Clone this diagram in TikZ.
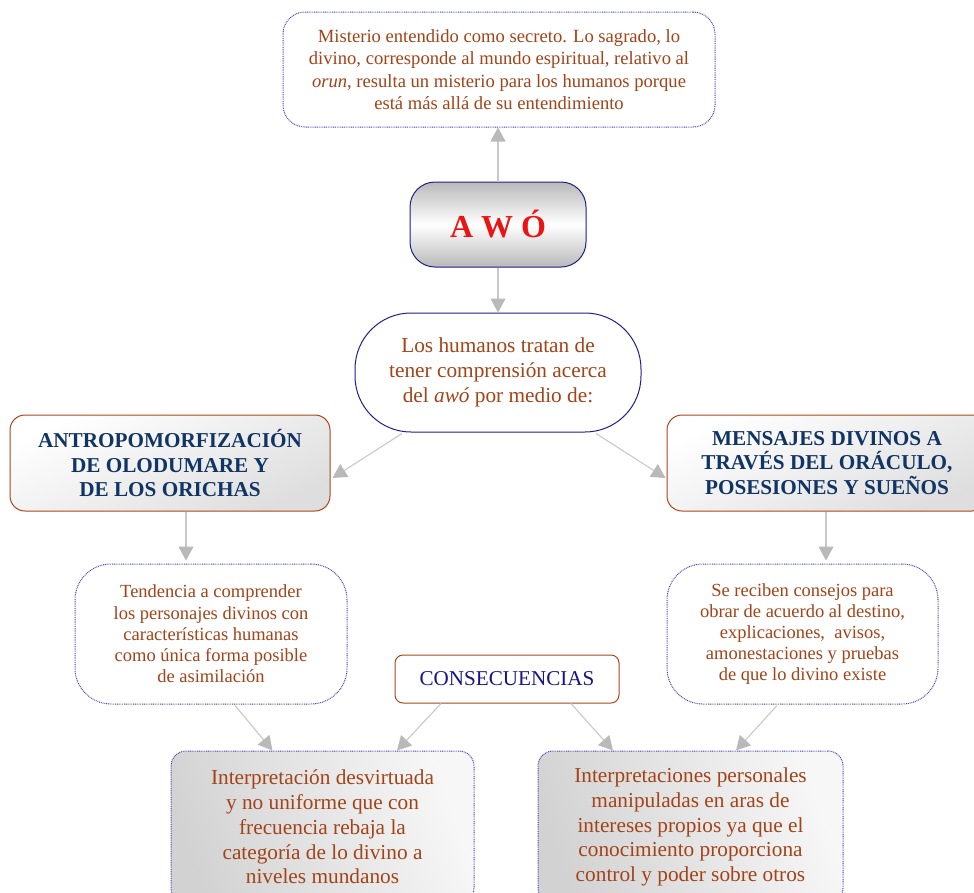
\documentclass[tikz,border=0pt]{standalone}
\usepackage{fontspec}
\setmainfont{Liberation Serif}
\usetikzlibrary{arrows.meta,calc}

\definecolor{txtbrown}{RGB}{163,67,24}
\definecolor{txtnavy}{RGB}{16,52,100}
\definecolor{txtblue}{RGB}{20,20,140}
\definecolor{txtred}{RGB}{235,20,20}
\definecolor{linenavy}{RGB}{30,30,140}
\definecolor{linebrown}{RGB}{170,70,30}
\definecolor{dotblue}{RGB}{70,70,180}
\definecolor{conngray}{RGB}{200,200,200}
\definecolor{headgray}{RGB}{185,185,185}

\begin{document}
\begin{tikzpicture}[x=1pt,y=-1pt,
  box/.style={rectangle, align=center, inner sep=0pt},
  dotbox/.style={box, draw=dotblue, dash pattern=on 0.9pt off 0.9pt, line width=1pt},
  navybox/.style={box, draw=linenavy, line width=1pt},
  brownbox/.style={box, draw=linebrown, line width=1pt},
  bodytext/.style={text=txtbrown, font=\fontsize{18.5}{21.2}\selectfont},
  bigtext/.style={text=txtbrown, font=\fontsize{21.3}{24.8}\selectfont},
  headtext/.style={text=txtnavy, font=\fontsize{21.2}{24.5}\selectfont\bfseries},
  conn/.style={draw=conngray, line width=1.1pt,
    -{Triangle[length=14pt,width=15pt,color=headgray,fill=headgray]}}
]
\useasboundingbox (0,0) rectangle (974,892);

% top definition box
\node[dotbox, rounded corners=22pt, fill=white, minimum width=432pt, minimum height=115pt,
      text=txtbrown, font=\fontsize{18.6}{22.3}\selectfont] (misterio) at (499,69.5)
  {Misterio entendido como secreto. Lo sagrado, lo\\
   divino, corresponde al mundo espiritual, relativo al\\
   \textit{orun}, resulta un misterio para los humanos porque\\
   está más allá de su entendimiento};

% central concept
\node[navybox, rounded corners=25pt, minimum width=176pt, minimum height=85pt,
      top color=gray!55, bottom color=gray!55, middle color=white,
      text=txtred, font=\fontsize{32}{38}\selectfont\bfseries] (awo) at (498,224.5) {A W Ó};

\node[navybox, rounded corners=56pt, fill=white, minimum width=286pt, minimum height=119pt,
      bigtext] (humanos) at (498,372.5)
  {Los humanos tratan de\\ tener comprensión acerca\\ del \textit{awó} por medio de:};

% the two ways
\node[brownbox, rounded corners=15pt, minimum width=320pt, minimum height=96pt,
      top color=white, bottom color=gray!26, shading angle=25, headtext] (antro) at (170,463)
  {ANTROPOMORFIZACIÓN\\ DE OLODUMARE Y\\ DE LOS ORICHAS};

\node[brownbox, rounded corners=15pt, minimum width=320pt, minimum height=96pt,
      top color=white, bottom color=gray!26, shading angle=25, headtext] (mens) at (827,463)
  {MENSAJES DIVINOS A\\ TRAVÉS DEL ORÁCULO,\\ POSESIONES Y SUEÑOS};

% explanations
\node[dotbox, rounded corners=36pt, fill=white, minimum width=272pt, minimum height=140pt,
      bodytext] (tend) at (211,634)
  {Tendencia a comprender\\ los personajes divinos con\\ características humanas\\
   como única forma posible\\ de asimilación};

\node[dotbox, rounded corners=36pt, fill=white, minimum width=271pt, minimum height=140pt,
      bodytext] (recib) at (802.5,634)
  {Se reciben consejos para\\ obrar de acuerdo al destino,\\ explicaciones,\ \ avisos,\\
   amonestaciones y pruebas\\ de que lo divino existe};

\node[brownbox, rounded corners=8pt, fill=white, minimum width=224pt, minimum height=48pt,
      text=txtblue, font=\fontsize{21.1}{25}\selectfont] (consec) at (507,679) {CONSECUENCIAS};

% consequences
\node[dotbox, rounded corners=15pt, minimum width=303pt, minimum height=152pt,
      left color=gray!35, right color=gray!6, shading angle=110, bigtext] (interpA) at (322.5,827)
  {Interpretación desvirtuada\\ y no uniforme que con\\ frecuencia rebaja la\\
   categoría de lo divino a\\ niveles mundanos};

\node[dotbox, rounded corners=15pt, minimum width=305pt, minimum height=152pt,
      left color=gray!35, right color=gray!6, shading angle=110, bigtext] (interpB) at (690.5,827)
  {Interpretaciones personales\\ manipuladas en aras de\\ intereses propios ya que el\\
   conocimiento proporciona\\ control y poder sobre otros};

% connectors
\draw[conn] (awo.north) -- (misterio.south -| awo.north);
\draw[conn] (awo.south) -- (humanos.north);
\draw[conn] ($(humanos.south)+(-96,1)$) -- ($(antro.east)+(2,15)$);
\draw[conn] ($(humanos.south)+(98,1)$) -- ($(mens.west)+(-1,15)$);
\draw[conn] ($(antro.south)+(16,0)$) -- ($(tend.north)+(-25,-3)$);
\draw[conn] ($(mens.south)+(-1,0)$) -- ($(recib.north)+(23.5,-3)$);
\draw[conn] ($(tend.south)+(24,1)$) -- ($(interpA.north)+(-50,0)$);
\draw[conn] ($(consec.south)+(-66,0)$) -- ($(interpA.north)+(74.5,0)$);
\draw[conn] ($(consec.south)+(64,0)$) -- ($(interpB.north)+(-77.5,0)$);
\draw[conn] ($(recib.south)+(-25.5,1)$) -- ($(interpB.north)+(45.5,0)$);
\end{tikzpicture}
\end{document}
